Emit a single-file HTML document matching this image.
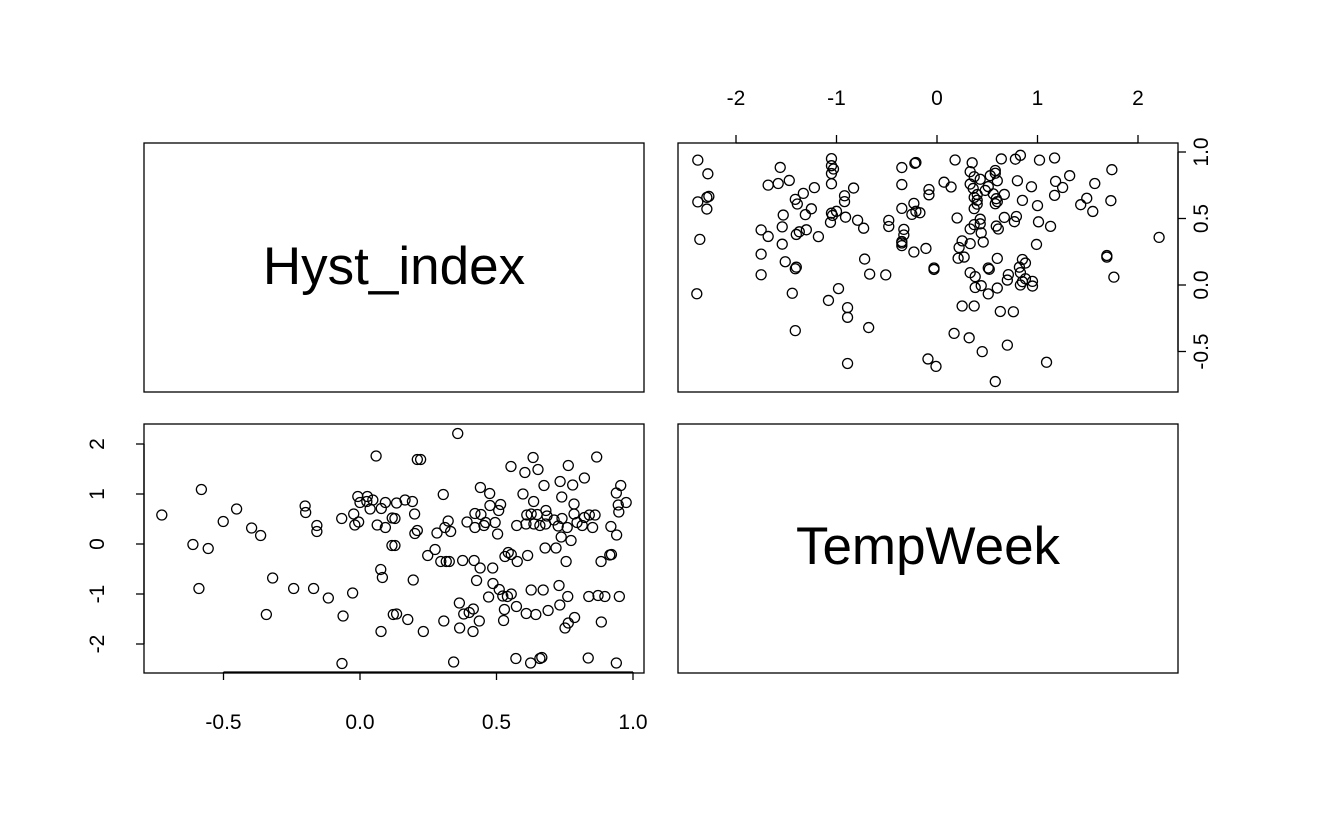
<!DOCTYPE html>
<html><head><meta charset="utf-8"><style>
body{margin:0;background:#fff}
svg{display:block;font-family:"Liberation Sans",Arial,sans-serif}
</style></head><body>
<svg id="chart" width="1322" height="817" viewBox="0 0 1322 817" xmlns="http://www.w3.org/2000/svg">
<rect width="1322" height="817" fill="#fff"/>
<g id="g" fill="none" stroke="#000" stroke-width="1.3"></g>
</svg>
<script>
// Data: Hyst_index and TempWeek (paired observations)
const hyst = [-0.726,-0.581,-0.612,-0.556,-0.590,-0.501,-0.452,-0.397,-0.364,-0.320,-0.343,-0.243,-0.201,-0.199,-0.170,-0.158,-0.158,-0.116,-0.067,-0.062,-0.066,-0.027,-0.023,-0.019,-0.005,-0.008,0.000,0.027,0.025,0.047,0.037,0.059,0.063,0.078,0.093,0.093,0.118,0.117,0.076,0.082,0.077,0.122,
0.358,0.210,0.222,0.553,0.634,0.604,0.652,0.763,0.867,0.822,0.733,0.779,0.674,0.597,0.739,0.441,0.475,0.305,0.955,0.939,0.975,0.946,0.948,0.784,0.636,0.134,0.165,0.192,0.200,0.128,0.476,0.515,0.508,0.421,0.443,0.392,0.323,0.460,0.495,0.421,0.454,0.504,0.311,0.332,0.282,0.210,0.201,0.611,0.627,0.649,0.681,0.685,0.574,0.608,0.637,0.659,0.680,0.711,0.740,0.726,0.759,0.784,0.795,0.822,0.840,0.861,0.814,0.852,0.919,0.940,0.737,0.773,0.128,0.275,0.248,0.296,0.316,0.327,0.376,0.418,0.440,0.486,0.531,0.543,0.554,0.576,0.614,0.678,0.718,0.755,0.883,0.915,0.921,0.195,0.427,0.487,0.510,0.471,0.523,0.540,0.554,0.627,0.671,0.729,0.761,0.838,0.872,0.897,0.950,0.364,0.415,0.400,0.380,0.437,0.529,0.573,0.609,0.644,0.689,0.732,0.786,0.763,0.751,0.884,0.134,0.175,0.307,0.526,0.365,0.414,0.232,0.343,0.571,0.625,0.659,0.666,0.836,0.939];
const temp = [0.58,1.09,-0.01,-0.09,-0.89,0.45,0.70,0.32,0.17,-0.68,-1.41,-0.89,0.76,0.63,-0.89,0.37,0.25,-1.08,0.51,-1.44,-2.39,-0.98,0.60,0.38,0.44,0.95,0.83,0.95,0.85,0.88,0.70,1.76,0.38,0.71,0.83,0.33,0.52,-0.03,-0.51,-0.67,-1.75,-1.41,
2.21,1.69,1.69,1.55,1.73,1.43,1.49,1.57,1.74,1.32,1.25,1.18,1.17,1.00,0.94,1.13,1.01,0.99,1.17,1.02,0.83,0.78,0.64,0.80,0.85,0.82,0.88,0.85,0.60,0.51,0.77,0.79,0.67,0.61,0.59,0.44,0.46,0.43,0.43,0.33,0.37,0.20,0.33,0.25,0.22,0.27,0.21,0.58,0.60,0.59,0.67,0.56,0.37,0.40,0.40,0.37,0.40,0.48,0.51,0.36,0.33,0.60,0.43,0.53,0.58,0.58,0.37,0.33,0.35,0.18,0.14,0.07,-0.03,-0.11,-0.23,-0.35,-0.35,-0.35,-0.33,-0.33,-0.48,-0.48,-0.25,-0.17,-0.21,-0.35,-0.23,-0.08,-0.08,-0.35,-0.35,-0.22,-0.21,-0.72,-0.73,-0.79,-0.91,-1.06,-1.04,-1.05,-1.00,-0.92,-0.92,-0.83,-1.05,-1.05,-1.03,-1.05,-1.05,-1.18,-1.30,-1.37,-1.40,-1.54,-1.31,-1.25,-1.39,-1.41,-1.33,-1.22,-1.47,-1.58,-1.68,-1.56,-1.40,-1.51,-1.54,-1.53,-1.68,-1.75,-1.75,-2.36,-2.29,-2.38,-2.29,-2.27,-2.28,-2.38];
const hystTicks = [-0.5, 0.0, 0.5, 1.0];
const hystLabels = ["-0.5","0.0","0.5","1.0"];
const tempTicks = [-2,-1,0,1,2];
const tempLabels = ["-2","-1","0","1","2"];

const NS="http://www.w3.org/2000/svg";
const g=document.getElementById('g');
const svg=document.getElementById('chart');
function mk(t,a,p){const e=document.createElementNS(NS,t);for(const k in a)e.setAttribute(k,a[k]);(p||g).appendChild(e);return e;}
const blX=v=>360+273*v, blY=v=>544-50*v;
const trX=v=>937+100.5*v, trY=v=>285-133*v;

const panels=[["panel-hyst-label",144,143],["panel-temp-vs-hyst",678,143],["panel-hyst-vs-temp",144,424],["panel-temp-label",678,424]];
panels.forEach(p=>{const r=mk('rect',{x:p[1],y:p[2],width:500,height:249});

});

function txt(s,x,y,size,rot,name){const t=mk('text',{x:x,y:y,'font-size':size,'text-anchor':'middle',fill:'#000',stroke:'none'},svg);
if(rot)t.setAttribute('transform','rotate(-90 '+x+' '+y+')');
t.textContent=s;


return t;}
txt("Hyst_index",394,284,53,false,"diag-label-hyst-index");
txt("TempWeek",928,564,53,false,"diag-label-tempweek");

mk('line',{x1:blX(hystTicks[0]),x2:blX(hystTicks[hystTicks.length-1]),y1:672,y2:672});
hystTicks.forEach((v,i)=>{const x=blX(v);mk('line',{x1:x,x2:x,y1:672,y2:680});
txt(hystLabels[i],x,729,21,false,"x-tick-label");});
mk('line',{x1:144,x2:144,y1:blY(tempTicks[0]),y2:blY(tempTicks[tempTicks.length-1])});
tempTicks.forEach((v,i)=>{const y=blY(v);mk('line',{x1:136,x2:144,y1:y,y2:y});
txt(tempLabels[i],104,y,21,true,"y-tick-label");});
mk('line',{x1:trX(tempTicks[0]),x2:trX(tempTicks[tempTicks.length-1]),y1:143,y2:143});
tempTicks.forEach((v,i)=>{const x=trX(v);mk('line',{x1:x,x2:x,y1:135,y2:143});
txt(tempLabels[i],x,105,21,false,"top-tick-label");});
const rTicks=[-0.5,0.0,0.5,1.0], rLabels=["-0.5","0.0","0.5","1.0"];
mk('line',{x1:1178,x2:1178,y1:trY(rTicks[0]),y2:trY(rTicks[rTicks.length-1])});
rTicks.forEach((v,i)=>{const y=trY(v);mk('line',{x1:1178,x2:1186,y1:y,y2:y});
txt(rLabels[i],1208,y,21,true,"right-tick-label");});

for(let i=0;i<hyst.length;i++){
  const a=mk('circle',{cx:blX(hyst[i]),cy:blY(temp[i]),r:5});
  
  
  const b=mk('circle',{cx:trX(temp[i]),cy:trY(hyst[i]),r:5});
  
  
}
</script>
</body></html>
